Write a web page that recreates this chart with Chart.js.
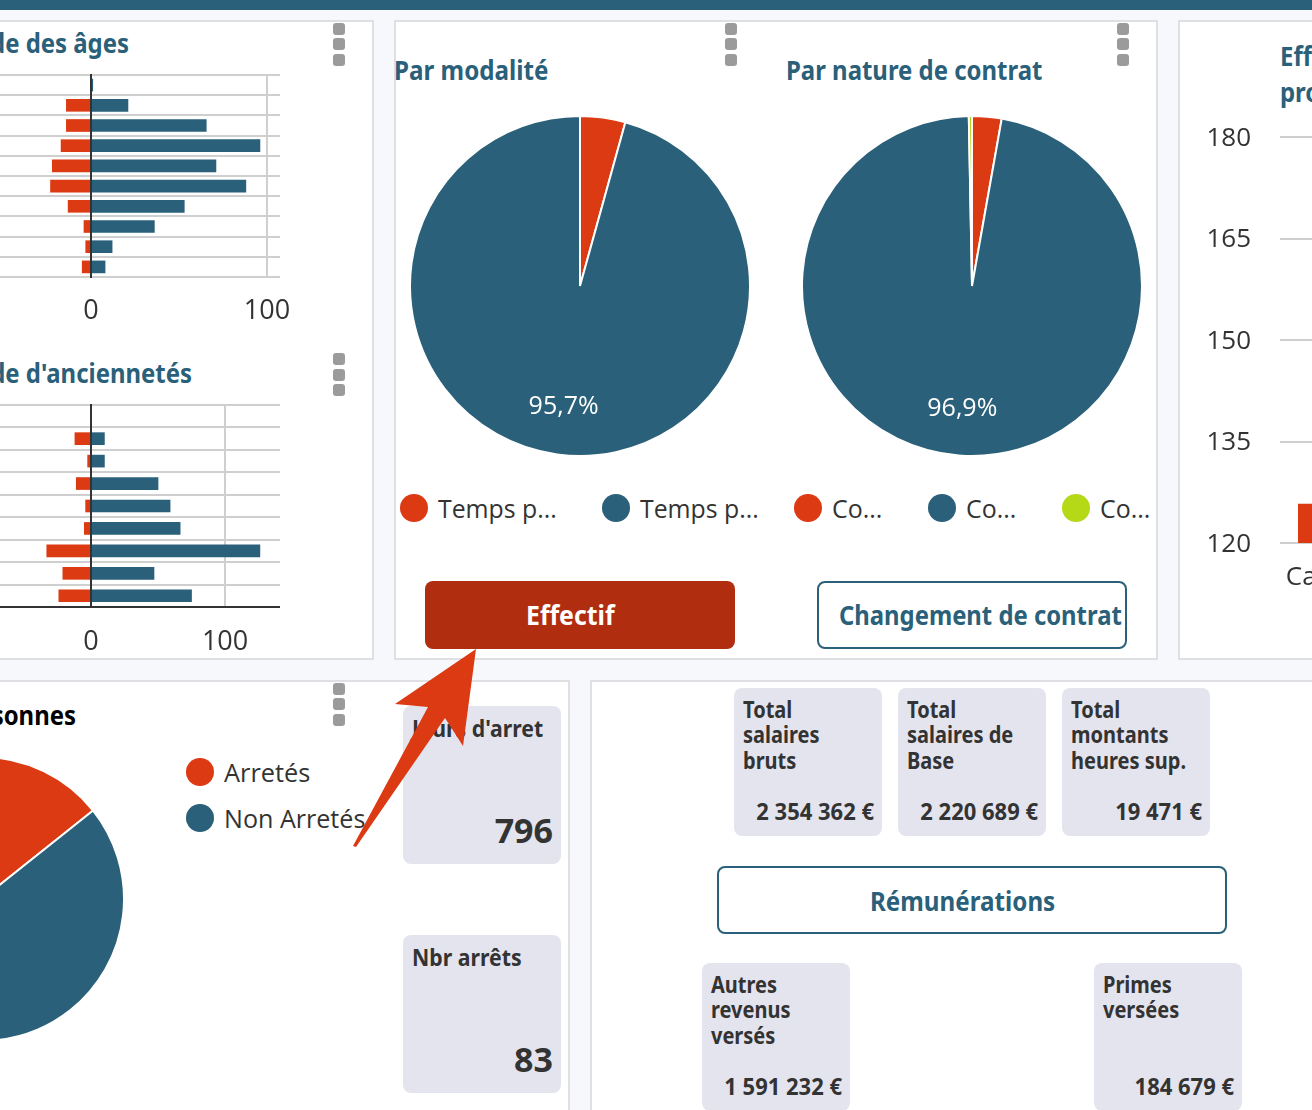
<!DOCTYPE html>
<html lang="fr"><head><meta charset="utf-8">
<script src="https://cdn.jsdelivr.net/npm/chart.js@4/dist/chart.umd.min.js"></script>
<style>
html,body{margin:0;padding:0;width:1312px;height:1110px;overflow:hidden;background:#f7f8fc;font-family:"Open Sans","Noto Sans",sans-serif;color:#333}
.abs{position:absolute;box-sizing:border-box}
.panel{background:#fff;border:2px solid #e0e0e4}
.card{background:#e4e4ee;border-radius:8px}
.t{position:absolute;white-space:nowrap;line-height:1}
canvas{position:absolute}
</style></head><body>
<script>
const RED='#dc3a13', BLUE='#2a6079', LIME='#b5d916', INK='#333333', GRID='#cfcfcf';

const ageLabels=['a1','a2','a3','a4','a5','a6','a7','a8','a9','a10'];
const ageWomen=[0,-14,-14,-17,-22,-23,-13,-4,-3,-5];
const ageMen=[1,21,65.5,96,71,88,53,36,12,8];

const seniorityLabels=['s1','s2','s3','s4','s5','s6','s7','s8','s9'];
const seniorityWomen=[0,-12,-2.5,-11,-4,-5,-33,-21,-24];
const seniorityMen=[0,10,10,50,59,66.5,126,47,75];

const modalityLabels=['Temps partiel','Temps plein'];
const modalityValues=[4.3,95.7];
const contractLabels=['Contrat 1','Contrat 2','Contrat 3'];
const contractValues=[2.8,96.9,0.3];
const stopLabels=['Arretés','Non Arretés'];
const stopValues=[14.3,85.7];
const categoryLabels=['Cadres'];
const categoryValues=[125.8];
const categoryTicks=[120,135,150,165,180];

function el(cls,x,y,w,h,extra){const d=document.createElement('div');d.className='abs '+cls;
  d.style.cssText=`left:${x}px;top:${y}px;width:${w}px;height:${h}px;`+(extra||'');document.body.appendChild(d);return d;}
function T(s,x,cy,size,weight,color,anchor='l',sx=1){const d=document.createElement('div');d.className='t';d.textContent=s;
  const tx={l:'0',r:'-100%',c:'-50%'}[anchor];
  d.style.cssText=`left:${x}px;top:${cy}px;font-size:${size}px;font-weight:${weight};color:${color};transform-origin:${anchor=='l'?'left':anchor=='r'?'right':'center'} center;transform:translate(${tx},-50%) scaleX(${sx});`;
  document.body.appendChild(d);return d;}
function canvas(x,y,w,h){const c=document.createElement('canvas');c.style.cssText=`left:${x}px;top:${y}px;width:${w}px;height:${h}px`;c.width=w;c.height=h;document.body.appendChild(c);return c;}
function dots(x,ys){ys.forEach(y=>el('',x-6,y-6,12,12,'background:#9b9b9b;border-radius:3px'));}

const TITLE='"Noto Sans"', SX=0.92;

el('',0,0,1312,10,'background:'+BLUE);
el('panel',-40,20,414,640);
el('panel',394,20,764,640);
el('panel',1178,20,200,640);
el('panel',-40,680,610,500);
el('panel',590,680,800,500);
dots(339,[29,44,60]);dots(731,[29,44,60]);dots(1123,[29,44,60]);
dots(339,[359,375,390]);dots(339,[689,704,720]);

function titleR(s,x,y,c){const d=T(s,x,y,26,700,c,'r',SX);d.style.fontFamily=TITLE;return d;}
function titleL(s,x,y,c,sx=SX){const d=T(s,x,y,26,700,c,'l',sx);d.style.fontFamily=TITLE;return d;}
titleR('Pyramide des âges',129,43,BLUE);
titleR("Pyramide d'anciennetés",192,373,BLUE);
titleL('Par modalité',394,70,BLUE,.93);
titleL('Par nature de contrat',786,70,BLUE);
titleL('Effectif par catégorie',1280,56,BLUE);
titleL('professionnelle',1280,92,BLUE);
titleR('Nbr personnes',76,715,'#000');

const zeroLine={id:'zeroLine',afterDatasetsDraw(ch){
  const a=ch.chartArea,g=ch.ctx,x=ch.scales.x.getPixelForValue(0);
  g.save();g.strokeStyle=INK;g.lineWidth=2;g.beginPath();g.moveTo(x,a.top-1);g.lineTo(x,a.bottom+1);g.stroke();
  if(ch.options.darkBase){g.beginPath();g.moveTo(a.left,a.bottom);g.lineTo(a.right,a.bottom);g.stroke();}
  g.restore();}};
function pyramid(x,y,w,h,axisH,maxV,labels,neg,pos,opts){
  const pad=40;
  const c=canvas(x-pad,y-2,w+pad*2,h+axisH+4);
  return new Chart(c,{type:'bar',data:{labels,datasets:[
    {data:neg,backgroundColor:RED,barThickness:12,borderWidth:0},
    {data:pos,backgroundColor:BLUE,barThickness:12,borderWidth:0}]},
   options:{responsive:false,animation:false,indexAxis:'y',darkBase:opts.darkBase,
    layout:{padding:{left:pad,right:pad,top:2,bottom:2}},
    plugins:{legend:{display:false},tooltip:{enabled:false}},
    scales:{
     x:{stacked:true,min:-maxV,max:maxV,
        afterFit:s=>{s.paddingLeft=0;s.paddingRight=0;s.height=axisH;},
        afterBuildTicks:s=>{s.ticks=[{value:-100},{value:0},{value:100}];},
        ticks:{color:INK,font:{family:'"Open Sans"',size:27},padding:opts.tickPad,maxRotation:0},
        grid:{color:GRID,lineWidth:2,drawTicks:false},
        border:{display:false}},
     y:{stacked:true,display:true,afterFit:s=>{s.width=0;},
        ticks:{display:false},grid:{color:GRID,lineWidth:2,drawTicks:false},
        border:{display:false}}
    }},
   plugins:[zeroLine]
  });
}
pyramid(-98,75,378,202,60,107.4,ageLabels,ageWomen,ageMen,{darkBase:false,tickPad:18});
pyramid(-98,405,378,202,60,141,seniorityLabels,seniorityWomen,seniorityMen,{darkBase:true,tickPad:19});

const pctLabel={id:'pctLabel',afterDatasetsDraw(ch){
  const vals=ch.data.datasets[0].data,i=vals.indexOf(Math.max(...vals));
  const a=ch.getDatasetMeta(0).data[i],mid=(a.startAngle+a.endAngle)/2,g=ch.ctx,r=a.outerRadius*ch.options.labelRadius;
  g.save();g.fillStyle='#fff';g.font='25px "Open Sans"';g.textAlign='center';g.textBaseline='middle';
  g.fillText(vals[i].toFixed(1).replace('.',',')+'%',a.x+Math.cos(mid)*r,a.y+Math.sin(mid)*r);g.restore();}};
function pie(cx,cy,r,labels,vals,colors,labelRadius){
  const s=2*r+4;const c=canvas(cx-r-2,cy-r-2,s,s);
  return new Chart(c,{type:'pie',data:{labels,datasets:[{data:vals,backgroundColor:colors,borderColor:'#fff',borderWidth:2}]},
    options:{responsive:false,animation:false,labelRadius,layout:{padding:0},plugins:{legend:{display:false},tooltip:{enabled:false}}},
    plugins:labelRadius?[pctLabel]:[]});
}
pie(580,286,169,modalityLabels,modalityValues,[RED,BLUE],0.716);
pie(972,286,169,contractLabels,contractValues,[RED,BLUE,LIME],0.727);
pie(-18,899,141,stopLabels,stopValues,[RED,BLUE],0);

function leg(x,y,color,txt,sx){el('',x-14,y-14,28,28,`background:${color};border-radius:50%`);T(txt,x+24,y,26,400,'#333','l',sx);}
leg(414,508,RED,'Temps p...',.955);leg(616,508,BLUE,'Temps p...',.955);
leg(808,508,RED,'Co...',.96);leg(942,508,BLUE,'Co...',.96);leg(1076,508,LIME,'Co...',.96);
leg(200,772,RED,stopLabels[0],.975);leg(200,818,BLUE,stopLabels[1],.965);

(function(){
  const left=90,top=20,catW=96;
  const c=canvas(1280-left,137-top,left+catW+20,406+top+60);
  new Chart(c,{type:'bar',data:{labels:categoryLabels,datasets:[{data:categoryValues,backgroundColor:RED,categoryPercentage:1,barPercentage:0.625}]},
   options:{responsive:false,animation:false,layout:{padding:{top,right:20,left:0,bottom:0}},
    plugins:{legend:{display:false},tooltip:{enabled:false}},
    scales:{x:{afterFit:s=>{s.height=60;s.paddingLeft=0;s.paddingRight=0;},grid:{display:false},border:{display:false},
        ticks:{color:INK,font:{family:'"Open Sans"',size:26},padding:11,maxRotation:0,autoSkip:false}},
      y:{min:120,max:180,afterFit:s=>{s.width=left;s.paddingTop=0;s.paddingBottom=0;},afterBuildTicks:s=>{s.ticks=categoryTicks.map(value=>({value}));},
        grid:{color:GRID,lineWidth:2,drawTicks:false},border:{display:false},
        ticks:{color:INK,font:{family:'"Open Sans"',size:26},padding:29,labelOffset:1.5}}}}});
})();

el('',425,581,310,68,'background:#b02e0f;border-radius:8px');
titleL('Effectif',526,615,'#fff',.955);
el('',817,581,310,68,`background:#fff;border:2px solid ${BLUE};border-radius:8px`);
titleL('Changement de contrat',839,615,BLUE,.917);
el('',717,866,510,68,`background:#fff;border:2px solid ${BLUE};border-radius:8px`);
titleL('Rémunérations',870,901,BLUE,.93);

function kpi(x,y,w,h,lines,val,vy,big){el('card',x,y,w,h);
  lines.forEach((l,i)=>{const d=T(l,x+9,y+(big?22:20.5)+i*25.5,big?24:23,700,'#333','l',big?.885:.87);d.style.fontFamily=TITLE;});
  const d=T(val,x+w-8,vy,big?34:23,700,'#333','r',big?1:.955);d.style.fontFamily=TITLE;}
kpi(403,706,158,158,["Jours d'arret"],'796',830,true);
kpi(403,935,158,158,['Nbr arrêts'],'83',1059,true);
kpi(734,688,148,148,['Total','salaires','bruts'],'2 354 362 €',811);
kpi(898,688,148,148,['Total','salaires de','Base'],'2 220 689 €',811);
kpi(1062,688,148,148,['Total','montants','heures sup.'],'19 471 €',811);
kpi(702,963,148,148,['Autres','revenus','versés'],'1 591 232 €',1086);
kpi(1094,963,148,148,['Primes','versées'],'184 679 €',1086);

const ns='http://www.w3.org/2000/svg',svg=document.createElementNS(ns,'svg');
svg.setAttribute('width','1312');svg.setAttribute('height','1110');svg.style.cssText='position:absolute;left:0;top:0;pointer-events:none';
const p=document.createElementNS(ns,'polygon');p.setAttribute('fill',RED);
p.setAttribute('points','476,649 463,746 445,718 356,847 353,846 428,707 395,704');svg.appendChild(p);document.body.appendChild(svg);
</script>
</body></html>
